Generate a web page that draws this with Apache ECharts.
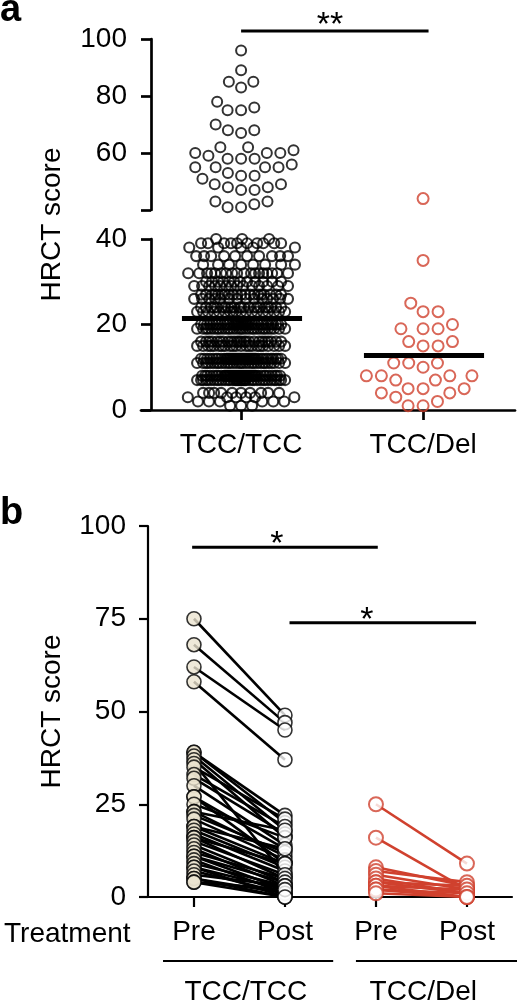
<!DOCTYPE html>
<html><head><meta charset="utf-8">
<script src="https://cdn.jsdelivr.net/npm/echarts@6/dist/echarts.min.js"></script>
<style>html,body{margin:0;padding:0;background:#fff}#c{width:532px;height:1000px}</style>
</head><body><div id="c"></div>
<script>
// ================= DATA =================
// Panel a
const groupsA = ['TCC/TCC', 'TCC/Del'];
const yTicksAUpper = [40, 60, 80, 100];
const yTicksALower = [0, 20, 40];
// TCC/TCC scores above the axis break (40-100)
const tccTccHigh = [96,89,85,85,83,78,76,75,75,70,68,68,67,62,62,61,60,60,60,59,58,58,58,56,55,55,55,55,53,52,52,51,49,49,48,48,47,47,43,43,42,41,41];
// TCC/TCC scores 0-40: score rows and number of patients on each row (estimated)
const tccTccRowValues = [40,39,38,36,34,32,30,29,27,26,24,23,20,19,16,15,12,11,8,7,4,3,2,1];
const tccTccRowCounts = [ 3,10, 5,10, 8,18,12,14,20,14,22,18,40,30,24,22,50,30,50,40,10, 6, 6,3];
// TCC/Del scores
const tccDelHigh = [44];
const tccDelLow = [35,25,23,23,20,19,19,19,16,16,15,15,11,11,11,10,8,8,8,8,7,7,5,5,5,4,4,3,2,1,1];

// Panel b
const treatLabels = ['Pre', 'Post', 'Pre', 'Post'];
const groupsB = ['TCC/TCC', 'TCC/Del'];
const yTicksB = [0, 25, 50, 75, 100];
const tccTccPre  = [75,68,62,58,39,39,38,37,36,35,33,32,30,27,27,25,23,23,22,21,19,19,18,17,16,16,15,14,13,12,11,11,10,9,8,8,7,6,5,5,4,4];
const tccTccPost = [49,47,45,37,22,20,18,16, 6,21,19,17,14,13, 9,16,18,11,12,10, 9,13, 8, 7, 5, 9, 6, 4, 3, 5, 2, 4, 1,3,2,0,1,3,1,0,2,0];
const tccDelPre  = [25,16,8,7,6,5,4,4,3,3,2,2,1];
const tccDelPost = [ 9, 2,3,4,2,1,3,1,2,0,1,0,0];

// ================= LAYOUT / STYLE =================
const FONT = '"Liberation Sans", Arial, Helvetica, sans-serif';
const FS = 28;
const W = 532;
const A_LEFT = 141, A_RIGHT = 17, A_UP_TOP = 39, A_LO_TOP = 239, A_H = 171;
const B_LEFT = 140, B_RIGHT = 20, B_TOP = 526, B_H = 371;
const AX_MIN = 0.45, AX_MAX = 2.505;
const BX_MIN = 0.407, BX_MAX = 4.495;
const A_PX_PER_X = (W - A_LEFT - A_RIGHT) / (AX_MAX - AX_MIN);
const RED = '#d0412e';
const BEIGE = '#ebe4d0';

// ---------- helpers ----------
function expandRows(vals, counts) {
  const out = [];
  vals.forEach((v, i) => { for (let k = 0; k < counts[i]; k++) out.push(v); });
  return out;
}
// deterministic beeswarm: offsets (px) so that dots do not overlap, capped width;
// when a row is full, extra dots pile up (overlapping) near the centre
function swarm(values, pxPerUnit, D, maxHalf, pileHalf) {
  const order = values.map((v, i) => i).sort((a, b) => values[a] - values[b] || a - b);
  const placed = [];
  const offs = new Array(values.length).fill(0);
  let flip = 1;
  for (const i of order) {
    const y = values[i] * pxPerUnit;
    const near = placed.filter(p => Math.abs(p.y - y) < D);
    const cands = [0];
    for (const p of near) {
      const dy = p.y - y, dx = Math.sqrt(D * D - dy * dy);
      cands.push(p.x + dx, p.x - dx);
    }
    flip = -flip;
    cands.sort((a, b) => (Math.abs(a) - Math.abs(b)) || (flip * (a - b)));
    let chosen = null;
    for (const c of cands) {
      if (Math.abs(c) > maxHalf) break;
      let ok = true;
      for (const p of near) {
        const dx = p.x - c, dy = p.y - y;
        if (dx * dx + dy * dy < D * D - 1e-6) { ok = false; break; }
      }
      if (ok) { chosen = c; break; }
    }
    if (chosen === null) {
      let best = -1, bestX = 0;
      for (let k = 0; k <= 2 * pileHalf; k++) {
        const c = (k % 2 ? 1 : -1) * flip * Math.ceil(k / 2);
        let m = Infinity;
        for (const p of near) {
          const dx = p.x - c, dy = p.y - y, d = dx * dx + dy * dy;
          if (d < m) m = d;
        }
        if (m > best + 1e-9) { best = m; bestX = c; }
      }
      chosen = bestX;
    }
    placed.push({ x: chosen, y });
    offs[i] = chosen;
  }
  return offs;
}
function column(values, xCenter, pxPerUnit, D, half, pile) {
  const offs = swarm(values, pxPerUnit, D, half, pile || half);
  return values.map((v, i) => [xCenter + offs[i] / A_PX_PER_X, v]);
}
const mean = arr => arr.reduce((s, v) => s + v, 0) / arr.length;

const tccTccLow = expandRows(tccTccRowValues, tccTccRowCounts);
const upperPPU = A_H / 60, lowerPPU = A_H / 40;
const meanTT = mean(tccTccHigh.concat(tccTccLow));
const meanTD = mean(tccDelHigh.concat(tccDelLow));

// ---------- axes ----------
const axisLineA = { show: true, onZero: false, lineStyle: { color: '#000', width: 2.7 } };
const axisTickA = { show: true, length: 10, lineStyle: { color: '#000', width: 2.7 } };
const labelStyle = { color: '#000', fontFamily: FONT, fontSize: FS };

const xAxes = [
  { gridIndex: 0, type: 'value', min: AX_MIN, max: AX_MAX, show: false },
  { gridIndex: 1, type: 'value', min: AX_MIN, max: AX_MAX,
    axisLine: axisLineA,
    axisTick: Object.assign({}, axisTickA, { customValues: [1, 2] }),
    axisLabel: Object.assign({}, labelStyle, { customValues: [1, 2], margin: 21,
      formatter: v => groupsA[Math.round(v) - 1] }),
    splitLine: { show: false } },
  { gridIndex: 2, type: 'value', min: BX_MIN, max: BX_MAX,
    axisLine: { show: true, onZero: false, lineStyle: { color: '#000', width: 2.2 } },
    axisTick: { show: true, length: 10, lineStyle: { color: '#000', width: 2.2 }, customValues: [1, 2, 3, 4] },
    axisLabel: Object.assign({}, labelStyle, { customValues: [1, 2, 3, 4], margin: 21,
      formatter: v => treatLabels[Math.round(v) - 1] }),
    splitLine: { show: false } },
  { gridIndex: 3, type: 'value', min: 0, max: 1, show: false }
];
const yAxes = [
  { gridIndex: 0, type: 'value', min: 40, max: 100, interval: 20, offset: -10,
    axisLine: axisLineA,
    axisTick: Object.assign({}, axisTickA, { customValues: yTicksAUpper }),
    axisLabel: Object.assign({}, labelStyle, { margin: 24, customValues: yTicksAUpper.slice(1) }),
    splitLine: { show: false } },
  { gridIndex: 1, type: 'value', min: 0, max: 40, interval: 20, offset: -10,
    axisLine: axisLineA,
    axisTick: Object.assign({}, axisTickA, { customValues: yTicksALower }),
    axisLabel: Object.assign({}, labelStyle, { margin: 24, customValues: yTicksALower }),
    splitLine: { show: false } },
  { gridIndex: 2, type: 'value', min: 0, max: 100, interval: 25, offset: -8,
    name: 'HRCT score', nameLocation: 'middle', nameGap: 82,
    nameTextStyle: { color: '#000', fontFamily: FONT, fontSize: FS },
    axisLine: { show: true, onZero: false, lineStyle: { color: '#000', width: 2.2 } },
    axisTick: { show: true, length: 9, lineStyle: { color: '#000', width: 2.2 }, customValues: yTicksB },
    axisLabel: Object.assign({}, labelStyle, { margin: 22, customValues: yTicksB }),
    splitLine: { show: false } },
  { gridIndex: 3, type: 'value', min: 0, max: 1, offset: -10,
    name: 'HRCT score', nameLocation: 'middle', nameGap: 85,
    nameTextStyle: { color: '#000', fontFamily: FONT, fontSize: FS },
    axisLine: { show: false }, axisTick: { show: false }, axisLabel: { show: false },
    splitLine: { show: false } }
];

// ---------- series ----------
const series = [];
const openDot = (color, bw) => ({ color: 'rgba(0,0,0,0)', borderColor: color, borderWidth: bw });
series.push({ type: 'scatter', xAxisIndex: 0, yAxisIndex: 0, symbolSize: 10, itemStyle: openDot('#000', 2),
  data: column(tccTccHigh, 1, upperPPU, 13.5, 54), silent: true });
series.push({ type: 'scatter', xAxisIndex: 1, yAxisIndex: 1, symbolSize: 10, itemStyle: openDot('#000', 2.1),
  data: column(tccTccLow, 1, lowerPPU, 11, 54, 40), silent: true });
series.push({ type: 'scatter', xAxisIndex: 0, yAxisIndex: 0, symbolSize: 11, itemStyle: openDot(RED, 2),
  data: column(tccDelHigh, 2, upperPPU, 15, 57), silent: true });
series.push({ type: 'scatter', xAxisIndex: 1, yAxisIndex: 1, symbolSize: 11, itemStyle: openDot(RED, 2),
  data: column(tccDelLow, 2, lowerPPU, 15, 57), silent: true });
// mean bars
[[1, meanTT], [2, meanTD]].forEach(([x, m]) => {
  series.push({ type: 'line', xAxisIndex: 1, yAxisIndex: 1, symbol: 'none', silent: true, z: 5,
    lineStyle: { color: '#000', width: 5, cap: 'butt' }, data: [[x - 0.325, m], [x + 0.335, m]] });
});
// significance bars
const sigBar = (xi, yi, x0, x1, lvl) => ({ type: 'line', xAxisIndex: xi, yAxisIndex: yi, symbol: 'none', silent: true,
  clip: false, lineStyle: { color: '#000', width: 3, cap: 'butt' }, data: [[x0, lvl], [x1, lvl]] });
series.push(sigBar(0, 0, 1, 2.03, 102.8));
series.push(sigBar(2, 2, 0.98, 3.02, 94.3));
series.push(sigBar(2, 2, 2.05, 4.1, 73.9));

// panel b pairs
function pairs(pre, post, x0, color) {
  pre.forEach((v, i) => {
    series.push({ type: 'line', xAxisIndex: 2, yAxisIndex: 2, symbol: 'none', silent: true, z: 2,
      lineStyle: { color: color, width: 2.6 }, data: [[x0, v], [x0 + 1, post[i]]] });
  });
}
pairs(tccTccPre, tccTccPost, 1, '#000');
pairs(tccDelPre, tccDelPost, 3, RED);
series.push({ type: 'scatter', xAxisIndex: 2, yAxisIndex: 2, symbolSize: 14, z: 3, silent: true,
  itemStyle: { color: BEIGE, borderColor: '#000', borderWidth: 1.6 }, data: tccTccPre.map(v => [1, v]) });
series.push({ type: 'scatter', xAxisIndex: 2, yAxisIndex: 2, symbolSize: 14, z: 3, silent: true,
  itemStyle: { color: '#fff', borderColor: '#000', borderWidth: 1.6 }, data: tccTccPost.map(v => [2, v]) });
series.push({ type: 'scatter', xAxisIndex: 2, yAxisIndex: 2, symbolSize: 14, z: 3, silent: true,
  itemStyle: { color: '#fff', borderColor: RED, borderWidth: 2 }, data: tccDelPre.map(v => [3, v]) });
series.push({ type: 'scatter', xAxisIndex: 2, yAxisIndex: 2, symbolSize: 14, z: 3, silent: true,
  itemStyle: { color: '#fff', borderColor: RED, borderWidth: 2 }, data: tccDelPost.map(v => [4, v]) });

const chart = echarts.init(document.getElementById('c'), null, { renderer: 'canvas' });
chart.setOption({
  animation: false,
  backgroundColor: '#fff',
  grid: [
    { left: A_LEFT, right: A_RIGHT, top: A_UP_TOP, height: A_H },
    { left: A_LEFT, right: A_RIGHT, top: A_LO_TOP, height: A_H },
    { left: B_LEFT, right: B_RIGHT, top: B_TOP, height: B_H },
    { left: A_LEFT, right: A_RIGHT, top: A_UP_TOP, height: A_LO_TOP + A_H - A_UP_TOP }
  ],
  xAxis: xAxes,
  yAxis: yAxes,
  series: series
});

// ---------- annotations (text) ----------
const px = (g, x, y) => chart.convertToPixel({ gridIndex: g }, [x, y]);
function txt(x, baseline, s, size, opts) {
  return { type: 'text', silent: true, style: {
    text: s, x: x, y: baseline + 0.19 * size, fill: '#000',
    font: (opts && opts.weight ? opts.weight + ' ' : '') + size + 'px ' + FONT,
    textAlign: (opts && opts.align) || 'left', textVerticalAlign: 'bottom',
    align: (opts && opts.align) || 'left', verticalAlign: 'bottom' } };
}
const g = [];
g.push(txt(0, 22, 'a', 38, { weight: 'bold' }));
g.push(txt(0, 525, 'b', 38, { weight: 'bold' }));
const sA = px(0, 1.5, 0); g.push(txt(sA[0] - 2, 36, '**', 34, { align: 'center' }));
const s1 = px(2, 1.91, 0); g.push(txt(s1[0], 555, '*', 34, { align: 'center' }));
const s2 = px(2, 2.9, 0); g.push(txt(s2[0], 631, '*', 34, { align: 'center' }));
g.push(txt(4, 943, 'Treatment', FS));
const axisY = px(2, 1, 0)[1];
[[0.66, 2.53, 1.57], [2.78, 4.55, 3.52]].forEach(([a, b, c], i) => {
  const pa = px(2, a, 0), pb = px(2, b, 0), pc = px(2, c, 0);
  g.push({ type: 'line', silent: true, shape: { x1: pa[0], y1: axisY + 64, x2: pb[0], y2: axisY + 64 },
    style: { stroke: '#000', lineWidth: 2 } });
  g.push(txt(pc[0], 1001, groupsB[i], FS, { align: 'center' }));
});
chart.setOption({ graphic: g });
</script></body></html>
